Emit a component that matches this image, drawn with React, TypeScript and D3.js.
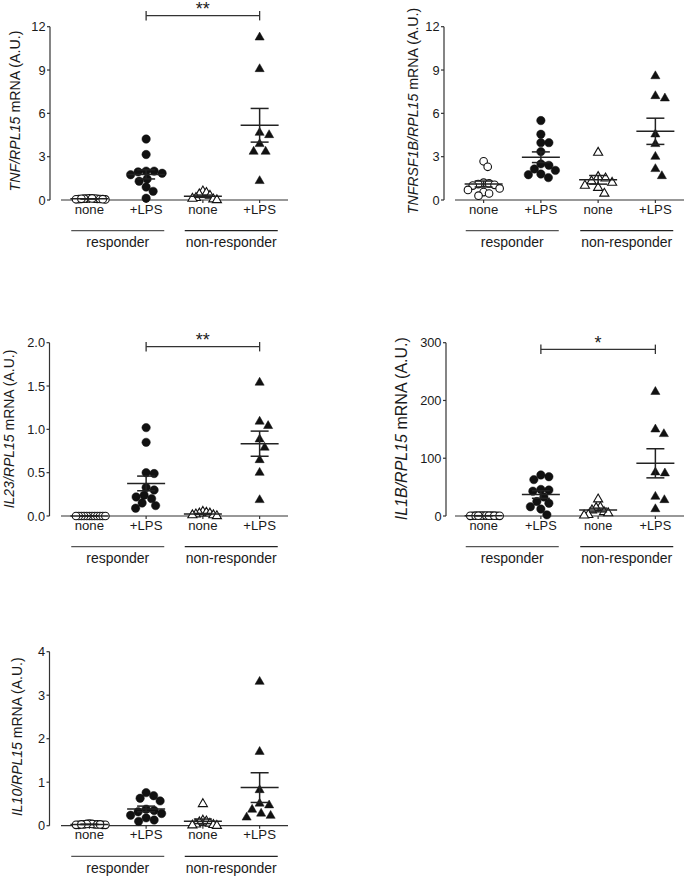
import React from 'react';
import * as d3 from 'd3';

// ---------- data ----------
const categories = ['none', '+LPS', 'none', '+LPS'];
const groupLabels = ['responder', 'non-responder'];

const tnfRespNone = [0.1, 0.08, 0.12, 0.06, 0.1, 0.05, 0.09, 0.07, 0.11, 0.04, 0.08, 0.06];
const tnfRespLPS = [4.22, 3.15, 2.0, 2.0, 1.95, 1.85, 1.75, 1.45, 1.3, 0.9, 0.6, 0.12];
const tnfNonNone = [0.6, 0.5, 0.4, 0.3, 0.15, 0.1, 0.05, 0.0];
const tnfNonLPS = [11.26, 9.07, 4.66, 4.5, 3.88, 3.35, 3.35, 1.32];

const tnfrRespNone = [2.68, 2.3, 1.2, 1.15, 1.1, 1.05, 1.0, 0.8, 0.7, 0.55, 0.45, 0.3];
const tnfrRespLPS = [5.5, 4.55, 3.97, 3.97, 3.35, 2.5, 2.4, 2.15, 2.05, 1.8, 1.75, 1.55];
const tnfrNonNone = [3.28, 1.6, 1.5, 1.3, 1.2, 1.0, 0.85, 0.45];
const tnfrNonLPS = [8.58, 7.2, 7.04, 4.55, 3.88, 3.0, 2.15, 1.66];

const il23RespNone = [0.0, 0.0, 0.0, 0.0, 0.0, 0.0, 0.0, 0.0, 0.0, 0.0, 0.0, 0.0];
const il23RespLPS = [1.02, 0.85, 0.5, 0.49, 0.33, 0.3, 0.24, 0.22, 0.2, 0.15, 0.12, 0.09];
const il23NonNone = [0.05, 0.04, 0.03, 0.03, 0.02, 0.01, 0.01, 0.0];
const il23NonLPS = [1.54, 1.09, 1.04, 0.885, 0.79, 0.646, 0.5, 0.185];

const il1bRespNone = [0.8, 0.5, 0.6, 0.4, 0.7, 0.3, 0.5, 0.6, 0.4, 0.5, 0.3, 0.6];
const il1bRespLPS = [71, 68, 63, 46, 45, 43, 33, 25, 22, 16, 12, 2];
const il1bNonNone = [29, 15, 14, 10, 7, 5, 2, 1];
const il1bNonLPS = [215, 150, 142, 75.6, 74, 33.5, 27.7, 12];

const il10RespNone = [0.05, 0.03, 0.04, 0.02, 0.03, 0.04, 0.02, 0.03, 0.02, 0.03, 0.02, 0.03];
const il10RespLPS = [0.76, 0.69, 0.63, 0.57, 0.38, 0.35, 0.32, 0.28, 0.24, 0.18, 0.13, 0.1];
const il10NonNone = [0.5, 0.12, 0.1, 0.08, 0.05, 0.03, 0.02, 0.01, 0.0];
const il10NonLPS = [3.31, 1.7, 0.82, 0.51, 0.47, 0.37, 0.28, 0.23, 0.19];

const tnfTicks = [0, 3, 6, 9, 12];
const tnfrTicks = [0, 3, 6, 9, 12];
const il23Ticks = [0, 0.5, 1.0, 1.5, 2.0];
const il1bTicks = [0, 100, 200, 300];
const il10Ticks = [0, 1, 2, 3, 4];

// ---------- layout ----------
const FONT = '"Liberation Sans", Arial, Helvetica, sans-serif';
const INK = '#1a1a1a';
const AXIS = '#333';

type Sig = { from: number; to: number; text: string; y: number };
type Cfg = {
  gene: string; yMax: number; ticks: number[]; fmt: (v: number) => string;
  yAxisX: number; xStart: number; xEnd: number; yTop: number; yBottom: number;
  labelX: number; labelY: number; labelSize: number; catSize: number;
  groups: number[][]; sig?: Sig;
};

const intFmt = d3.format('d');
const oneFmt = d3.format('.1f');

const panels: Cfg[] = [
  {
    gene: 'TNF', yMax: 12, ticks: tnfTicks, fmt: intFmt,
    yAxisX: 50, xStart: 61, xEnd: 288, yTop: 26.7, yBottom: 200,
    labelX: 15, labelY: 111, labelSize: 14.2, catSize: 13.2,
    groups: [tnfRespNone, tnfRespLPS, tnfNonNone, tnfNonLPS],
    sig: { from: 1, to: 3, text: '**', y: 15.7 },
  },
  {
    gene: 'TNFRSF1B', yMax: 12, ticks: tnfrTicks, fmt: intFmt,
    yAxisX: 444, xStart: 455, xEnd: 684, yTop: 26.7, yBottom: 200,
    labelX: 412.5, labelY: 111, labelSize: 14.2, catSize: 13.2,
    groups: [tnfrRespNone, tnfrRespLPS, tnfrNonNone, tnfrNonLPS],
  },
  {
    gene: 'IL23', yMax: 2, ticks: il23Ticks, fmt: oneFmt,
    yAxisX: 49.5, xStart: 61, xEnd: 288, yTop: 342.7, yBottom: 516,
    labelX: 9, labelY: 429, labelSize: 14, catSize: 13.2,
    groups: [il23RespNone, il23RespLPS, il23NonNone, il23NonLPS],
    sig: { from: 1, to: 3, text: '**', y: 346.7 },
  },
  {
    gene: 'IL1B', yMax: 300, ticks: il1bTicks, fmt: intFmt,
    yAxisX: 446, xStart: 455, xEnd: 684, yTop: 342.7, yBottom: 516,
    labelX: 401, labelY: 428.7, labelSize: 16, catSize: 12.8,
    groups: [il1bRespNone, il1bRespLPS, il1bNonNone, il1bNonLPS],
    sig: { from: 1, to: 3, text: '*', y: 349.3 },
  },
  {
    gene: 'IL10', yMax: 4, ticks: il10Ticks, fmt: intFmt,
    yAxisX: 49.5, xStart: 61, xEnd: 288, yTop: 651.7, yBottom: 825.7,
    labelX: 16.5, labelY: 736.7, labelSize: 14, catSize: 13.2,
    groups: [il10RespNone, il10RespLPS, il10NonNone, il10NonLPS],
  },
];

// beeswarm offsets in pixel space
function swarm(ys: number[], D: number, maxHalf: number): number[] {
  const order = ys.map((_, i) => i).sort((a, b) => ys[a] - ys[b]);
  const xs = new Array(ys.length).fill(0);
  const placed: number[] = [];
  for (const i of order) {
    let best = 0;
    for (let k = 0; k < 800; k++) {
      const cand = k === 0 ? 0 : (k % 2 === 1 ? 1 : -1) * Math.ceil(k / 2) * 0.5;
      const ok = placed.every((j) => {
        const dx = cand - xs[j];
        const dy = ys[i] - ys[j];
        return dx * dx + dy * dy >= D * D;
      });
      if (ok) { best = cand; break; }
    }
    xs[i] = best;
    placed.push(i);
  }
  const m = d3.max(xs, (v) => Math.abs(v)) || 0;
  if (m > maxHalf) return xs.map((v) => (v * maxHalf) / m);
  return xs;
}

const triPath = d3.symbol(d3.symbolTriangle, 36)() as string;

function Panel({ cfg }: { cfg: Cfg }) {
  const y = d3.scaleLinear().domain([0, cfg.yMax]).range([cfg.yBottom, cfg.yTop]);
  const x = d3.scalePoint<number>().domain([0, 1, 2, 3]).range([cfg.xStart, cfg.xEnd]).padding(0.5);
  const groupCenters = [((x(0) as number) + (x(1) as number)) / 2, ((x(2) as number) + (x(3) as number)) / 2];
  const lineY = cfg.yBottom + 30.7;

  return (
    <g fontFamily={FONT}>
      {/* y axis */}
      <line x1={cfg.yAxisX} x2={cfg.yAxisX} y1={y(cfg.yMax)} y2={y(0)} stroke={AXIS} strokeWidth={1.2} />
      {cfg.ticks.map((t) => (
        <g key={t}>
          <line x1={cfg.yAxisX - 3} x2={cfg.yAxisX} y1={y(t)} y2={y(t)} stroke={AXIS} strokeWidth={1.2} />
          <text x={cfg.yAxisX - 4.5} y={y(t)} dy="0.36em" textAnchor="end" fontSize={12.8} fill={INK}>
            {cfg.fmt(t)}
          </text>
        </g>
      ))}
      {/* x axis */}
      <line x1={cfg.xStart} x2={cfg.xEnd} y1={y(0)} y2={y(0)} stroke={AXIS} strokeWidth={1.2} />
      {categories.map((c, i) => (
        <g key={i}>
          <line x1={x(i)} x2={x(i)} y1={y(0)} y2={y(0) + 3} stroke={AXIS} strokeWidth={1.2} />
          <text x={x(i)} y={y(0) + 13.5} textAnchor="middle" fontSize={cfg.catSize} fill={INK}>{c}</text>
        </g>
      ))}
      {/* group lines */}
      {groupLabels.map((g, i) => (
        <g key={g}>
          <line x1={groupCenters[i] - 46.5} x2={groupCenters[i] + 46.5} y1={lineY} y2={lineY}
            stroke={i === 0 ? '#555' : '#222'} strokeWidth={1.3} />
          <text x={groupCenters[i]} y={cfg.yBottom + 47} textAnchor="middle" fontSize={14} fill={INK}>{g}</text>
        </g>
      ))}
      {/* y label */}
      <text transform={`translate(${cfg.labelX + cfg.labelSize * 0.36},${cfg.labelY}) rotate(-90)`}
        textAnchor="middle" fontSize={cfg.labelSize} fill={INK}>
        <tspan fontStyle="italic">{cfg.gene}/RPL15</tspan>
        <tspan> mRNA (A.U.)</tspan>
      </text>
      {/* points */}
      {cfg.groups.map((vals, gi) => {
        const cx = x(gi) as number;
        const ys = vals.map((v) => y(v));
        const tri = gi >= 2;
        const xs = swarm(ys, tri ? 9.5 : 8, tri ? 14 : 16);
        const filled = gi % 2 === 1;
        return (
          <g key={gi}>
            {vals.map((v, i) =>
              tri ? (
                <path key={i} d={triPath} transform={`translate(${cx + xs[i]},${ys[i]})`}
                  fill={filled ? '#111' : '#fff'} stroke="#111" strokeWidth={filled ? 0.5 : 1.1} />
              ) : (
                <circle key={i} cx={cx + xs[i]} cy={ys[i]} r={filled ? 4.2 : 3.8}
                  fill={filled ? '#111' : '#fff'} stroke="#111" strokeWidth={filled ? 0.5 : 1.1} />
              )
            )}
          </g>
        );
      })}
      {/* mean ± SEM */}
      {cfg.groups.map((vals, gi) => {
        const cx = x(gi) as number;
        const m = d3.mean(vals) as number;
        const sem = (d3.deviation(vals) || 0) / Math.sqrt(vals.length);
        return (
          <g key={'e' + gi} stroke="#222" strokeWidth={1.5}>
            <line x1={cx - 19} x2={cx + 19} y1={y(m)} y2={y(m)} />
            <line x1={cx} x2={cx} y1={y(m + sem)} y2={y(Math.max(0, m - sem))} />
            <line x1={cx - 9} x2={cx + 9} y1={y(m + sem)} y2={y(m + sem)} />
            <line x1={cx - 9} x2={cx + 9} y1={y(Math.max(0, m - sem))} y2={y(Math.max(0, m - sem))} />
          </g>
        );
      })}
      {/* significance */}
      {cfg.sig && (
        <g stroke="#333" strokeWidth={1.3}>
          <line x1={x(cfg.sig.from)} x2={x(cfg.sig.to)} y1={cfg.sig.y} y2={cfg.sig.y} />
          <line x1={x(cfg.sig.from)} x2={x(cfg.sig.from)} y1={cfg.sig.y - 4.7} y2={cfg.sig.y + 4.7} />
          <line x1={x(cfg.sig.to)} x2={x(cfg.sig.to)} y1={cfg.sig.y - 4.7} y2={cfg.sig.y + 4.7} />
          <text x={((x(cfg.sig.from) as number) + (x(cfg.sig.to) as number)) / 2} y={cfg.sig.y - 0.5}
            textAnchor="middle" fontSize={18} fill={INK} stroke="none">{cfg.sig.text}</text>
        </g>
      )}
    </g>
  );
}

export default function App() {
  return (
    <svg width={685} height={879} style={{ position: 'absolute', left: 0, top: 0, background: '#fff' }}>
      <rect width={685} height={879} fill="#fff" />
      {panels.map((p) => <Panel key={p.gene} cfg={p} />)}
    </svg>
  );
}
